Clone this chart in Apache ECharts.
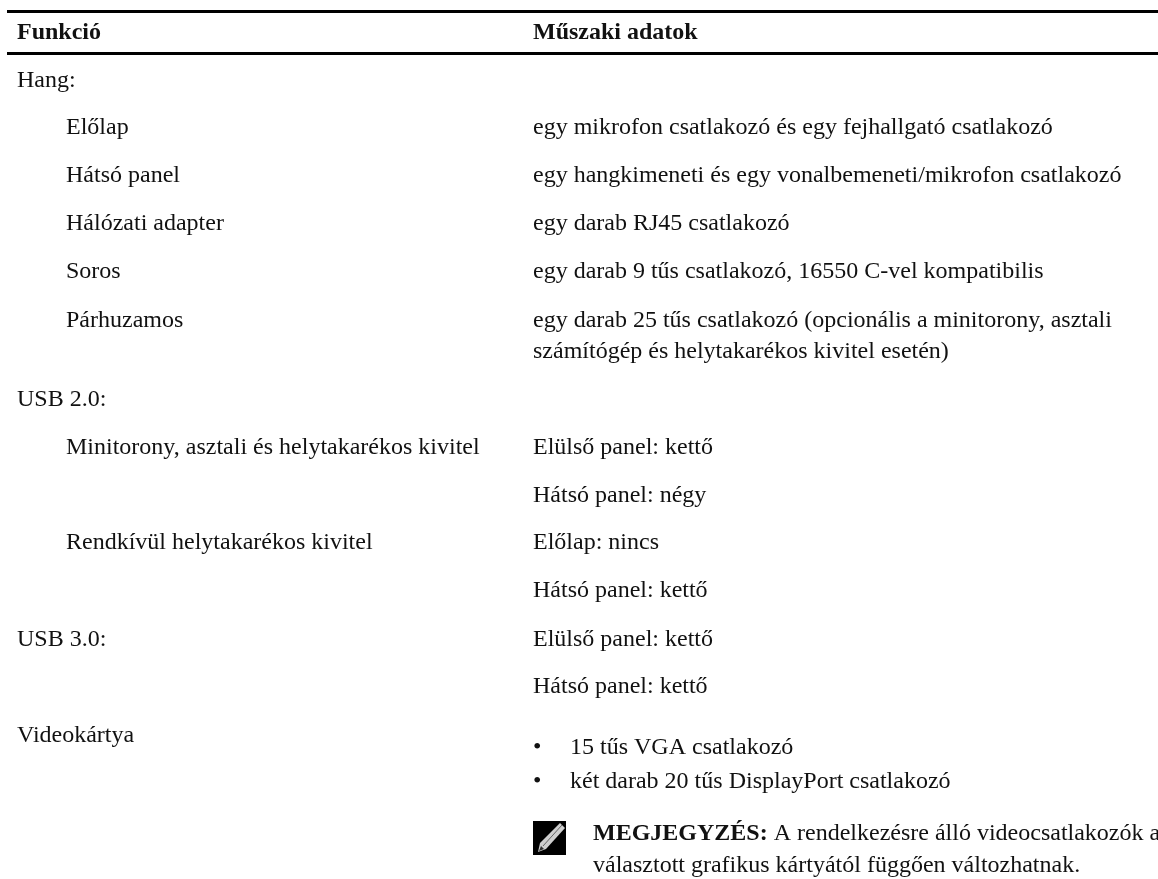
<!DOCTYPE html>
<html>
<head>
<meta charset="utf-8">
<style>html,body{margin:0;padding:0;background:#fff}#main{width:1158px;height:879px}</style>
<script src="https://cdn.jsdelivr.net/npm/echarts@6/dist/echarts.min.js"></script>
</head>
<body>
<div id="main"></div>
<script>
// table content, one list per column, baseline of each text line
var headers = ['Funkció', 'Műszaki adatok'];
var leftCells = [
  ['Hang:', 0, 87],
  ['Előlap', 1, 134],
  ['Hátsó panel', 1, 182],
  ['Hálózati adapter', 1, 230],
  ['Soros', 1, 278],
  ['Párhuzamos', 1, 327],
  ['USB 2.0:', 0, 406],
  ['Minitorony, asztali és helytakarékos kivitel', 1, 454],
  ['Rendkívül helytakarékos kivitel', 1, 549],
  ['USB 3.0:', 0, 646],
  ['Videokártya', 0, 742]
];
var rightCells = [
  ['egy mikrofon csatlakozó és egy fejhallgató csatlakozó', 134],
  ['egy hangkimeneti és egy vonalbemeneti/mikrofon csatlakozó', 182],
  ['egy darab RJ45 csatlakozó', 230],
  ['egy darab 9 tűs csatlakozó, 16550 C-vel kompatibilis', 278],
  ['egy darab 25 tűs csatlakozó (opcionális a minitorony, asztali', 327],
  ['számítógép és helytakarékos kivitel esetén)', 358],
  ['Elülső panel: kettő', 454],
  ['Hátsó panel: négy', 502],
  ['Előlap: nincs', 549],
  ['Hátsó panel: kettő', 597],
  ['Elülső panel: kettő', 646],
  ['Hátsó panel: kettő', 693]
];
var bullets = [
  ['15 tűs VGA csatlakozó', 754],
  ['két darab 20 tűs DisplayPort csatlakozó', 788]
];
var noteBold = 'MEGJEGYZÉS:';
var noteLine1 = ' A rendelkezésre álló videocsatlakozók a';
var noteLine2 = 'választott grafikus kártyától függően változhatnak.';

var FONT = '"Liberation Serif", serif';
var SIZE = 24;
var INK = '#111';
var chart = echarts.init(document.getElementById('main'));
var elements = [];

// y is the baseline, the text anchor sits about 6px above it
function text(str, x, y, bold) {
  elements.push({
    type: 'text',
    style: {
      x: x, y: y - 6, text: str, fill: INK,
      font: (bold ? 'bold ' : '') + SIZE + 'px ' + FONT,
      textVerticalAlign: 'middle'
    }
  });
}
function rule(y, h) {
  elements.push({type: 'rect', shape: {x: 7, y: y, width: 1151, height: h}, style: {fill: '#000'}});
}

rule(10, 3);
rule(52, 3);
text(headers[0], 17, 39, true);
text(headers[1], 533, 39, true);
leftCells.forEach(function (c) { text(c[0], c[1] ? 66 : 17, c[2], false); });
rightCells.forEach(function (c) { text(c[0], 533, c[1], false); });
bullets.forEach(function (b) {
  text('•', 533, b[1], false);
  text(b[0], 570, b[1], false);
});

// note icon: black square with a pale pencil
elements.push({type: 'rect', shape: {x: 533, y: 821, width: 33, height: 34}, style: {fill: '#000'}});
elements.push({type: 'polygon', shape: {points: [[560, 823], [565, 828], [546, 849], [538, 852], [540, 843]]}, style: {fill: '#cfcfcf'}});
elements.push({type: 'polyline', shape: {points: [[562, 825], [543, 846]]}, style: {stroke: '#666', fill: null, lineWidth: 1}});
elements.push({type: 'polygon', shape: {points: [[541, 846], [544, 849], [539, 851]]}, style: {fill: '#333'}});

// bold lead-in and the rest of the line flow as one rich text
elements.push({
  type: 'text',
  style: {
    x: 593, y: 840 - 6,
    text: '{b|' + noteBold + '}{r|' + noteLine1 + '}',
    textVerticalAlign: 'middle',
    rich: {
      b: {font: 'bold ' + SIZE + 'px ' + FONT, fill: INK},
      r: {font: SIZE + 'px ' + FONT, fill: INK}
    }
  }
});
text(noteLine2, 593, 872, false);

chart.setOption({animation: false, backgroundColor: '#fff', graphic: {elements: elements}});
</script>
</body>
</html>
